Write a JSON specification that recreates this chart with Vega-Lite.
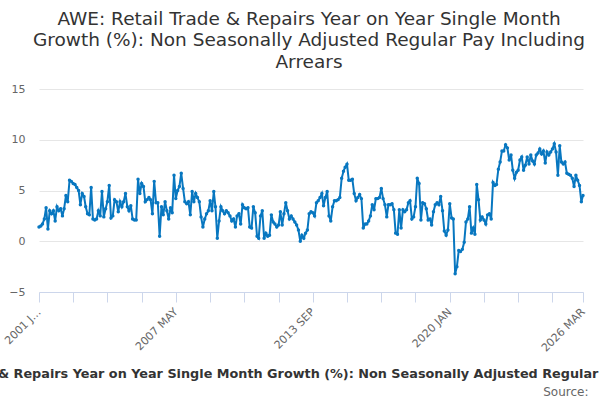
{
  "$schema": "https://vega.github.io/schema/vega-lite/v6.json",
  "width": 544,
  "height": 203,
  "autosize": {"type": "none"},
  "padding": {"left": 39, "top": 89, "right": 17, "bottom": 108},
  "background": "white",
  "config": {"font": "DejaVu Sans", "view": {"stroke": null}},
  "title": {
    "text": ["AWE: Retail Trade & Repairs Year on Year Single Month", "Growth (%): Non Seasonally Adjusted Regular Pay Including", "Arrears"],
    "fontSize": 18.5,
    "fontWeight": "normal",
    "color": "#333333",
    "anchor": "middle",
    "frame": "group",
    "dx": -2,
    "offset": 12,
    "lineHeight": 21.5
  },
  "data": {
    "values": [
      {"d": "2001-01", "v": 1.4}, {"d": "2001-02", "v": 1.5}, {"d": "2001-03", "v": 1.7}, {"d": "2001-04", "v": 2.2}, {"d": "2001-05", "v": 3.3}, {"d": "2001-06", "v": 1.2},
      {"d": "2001-07", "v": 3.0}, {"d": "2001-08", "v": 2.7}, {"d": "2001-09", "v": 3.0}, {"d": "2001-10", "v": 2.0}, {"d": "2001-11", "v": 3.4}, {"d": "2001-12", "v": 3.0},
      {"d": "2002-01", "v": 3.2}, {"d": "2002-02", "v": 2.5}, {"d": "2002-03", "v": 3.2}, {"d": "2002-04", "v": 4.5}, {"d": "2002-05", "v": 3.9}, {"d": "2002-06", "v": 6.0},
      {"d": "2002-07", "v": 5.9}, {"d": "2002-08", "v": 5.7}, {"d": "2002-09", "v": 5.6}, {"d": "2002-10", "v": 5.3}, {"d": "2002-11", "v": 5.0}, {"d": "2002-12", "v": 3.6},
      {"d": "2003-01", "v": 4.7}, {"d": "2003-02", "v": 4.4}, {"d": "2003-03", "v": 3.4}, {"d": "2003-04", "v": 2.7}, {"d": "2003-05", "v": 2.6}, {"d": "2003-06", "v": 5.3},
      {"d": "2003-07", "v": 2.2}, {"d": "2003-08", "v": 2.1}, {"d": "2003-09", "v": 2.2}, {"d": "2003-10", "v": 3.0}, {"d": "2003-11", "v": 2.5}, {"d": "2003-12", "v": 4.9},
      {"d": "2004-01", "v": 2.4}, {"d": "2004-02", "v": 3.2}, {"d": "2004-03", "v": 3.9}, {"d": "2004-04", "v": 5.5}, {"d": "2004-05", "v": 2.3}, {"d": "2004-06", "v": 2.5},
      {"d": "2004-07", "v": 4.1}, {"d": "2004-08", "v": 3.9}, {"d": "2004-09", "v": 2.9}, {"d": "2004-10", "v": 3.9}, {"d": "2004-11", "v": 3.4}, {"d": "2004-12", "v": 3.9},
      {"d": "2005-01", "v": 4.7}, {"d": "2005-02", "v": 3.4}, {"d": "2005-03", "v": 3.0}, {"d": "2005-04", "v": 3.5}, {"d": "2005-05", "v": 2.2}, {"d": "2005-06", "v": 2.1},
      {"d": "2005-07", "v": 2.1}, {"d": "2005-08", "v": 6.1}, {"d": "2005-09", "v": 4.7}, {"d": "2005-10", "v": 5.7}, {"d": "2005-11", "v": 5.4}, {"d": "2005-12", "v": 3.9},
      {"d": "2006-01", "v": 4.1}, {"d": "2006-02", "v": 4.3}, {"d": "2006-03", "v": 4.1}, {"d": "2006-04", "v": 2.7}, {"d": "2006-05", "v": 5.9}, {"d": "2006-06", "v": 3.8},
      {"d": "2006-07", "v": 3.8}, {"d": "2006-08", "v": 0.5}, {"d": "2006-09", "v": 3.4}, {"d": "2006-10", "v": 2.6}, {"d": "2006-11", "v": 3.9}, {"d": "2006-12", "v": 3.0},
      {"d": "2007-01", "v": 2.2}, {"d": "2007-02", "v": 3.3}, {"d": "2007-03", "v": 2.8}, {"d": "2007-04", "v": 6.5}, {"d": "2007-05", "v": 4.2}, {"d": "2007-06", "v": 5.0},
      {"d": "2007-07", "v": 5.4}, {"d": "2007-08", "v": 6.7}, {"d": "2007-09", "v": 5.2}, {"d": "2007-10", "v": 3.9}, {"d": "2007-11", "v": 3.7}, {"d": "2007-12", "v": 3.9},
      {"d": "2008-01", "v": 2.6}, {"d": "2008-02", "v": 4.9}, {"d": "2008-03", "v": 3.9}, {"d": "2008-04", "v": 4.7}, {"d": "2008-05", "v": 4.3}, {"d": "2008-06", "v": 3.9},
      {"d": "2008-07", "v": 2.4}, {"d": "2008-08", "v": 1.4}, {"d": "2008-09", "v": 2.2}, {"d": "2008-10", "v": 2.7}, {"d": "2008-11", "v": 3.0}, {"d": "2008-12", "v": 4.0},
      {"d": "2009-01", "v": 3.0}, {"d": "2009-02", "v": 4.9}, {"d": "2009-03", "v": 3.4}, {"d": "2009-04", "v": 0.3}, {"d": "2009-05", "v": 2.0}, {"d": "2009-06", "v": 3.4},
      {"d": "2009-07", "v": 3.0}, {"d": "2009-08", "v": 2.7}, {"d": "2009-09", "v": 3.0}, {"d": "2009-10", "v": 2.8}, {"d": "2009-11", "v": 2.5}, {"d": "2009-12", "v": 2.0},
      {"d": "2010-01", "v": 2.2}, {"d": "2010-02", "v": 1.4}, {"d": "2010-03", "v": 2.5}, {"d": "2010-04", "v": 2.7}, {"d": "2010-05", "v": 1.7}, {"d": "2010-06", "v": 3.6},
      {"d": "2010-07", "v": 3.3}, {"d": "2010-08", "v": 3.2}, {"d": "2010-09", "v": 3.3}, {"d": "2010-10", "v": 1.4}, {"d": "2010-11", "v": 1.3}, {"d": "2010-12", "v": 3.4},
      {"d": "2011-01", "v": 2.8}, {"d": "2011-02", "v": 0.5}, {"d": "2011-03", "v": 0.3}, {"d": "2011-04", "v": 2.5}, {"d": "2011-05", "v": 3.0}, {"d": "2011-06", "v": 0.3},
      {"d": "2011-07", "v": 0.8}, {"d": "2011-08", "v": 0.5}, {"d": "2011-09", "v": 0.6}, {"d": "2011-10", "v": 2.6}, {"d": "2011-11", "v": 1.9}, {"d": "2011-12", "v": 1.7},
      {"d": "2012-01", "v": 1.4}, {"d": "2012-02", "v": 1.6}, {"d": "2012-03", "v": 2.9}, {"d": "2012-04", "v": 1.6}, {"d": "2012-05", "v": 2.7}, {"d": "2012-06", "v": 3.8},
      {"d": "2012-07", "v": 3.0}, {"d": "2012-08", "v": 2.2}, {"d": "2012-09", "v": 2.5}, {"d": "2012-10", "v": 2.2}, {"d": "2012-11", "v": 1.9}, {"d": "2012-12", "v": 1.6},
      {"d": "2013-01", "v": 1.1}, {"d": "2013-02", "v": 0.0}, {"d": "2013-03", "v": 0.6}, {"d": "2013-04", "v": 0.3}, {"d": "2013-05", "v": 0.8}, {"d": "2013-06", "v": 1.1},
      {"d": "2013-07", "v": 2.7}, {"d": "2013-08", "v": 2.9}, {"d": "2013-09", "v": 2.8}, {"d": "2013-10", "v": 2.5}, {"d": "2013-11", "v": 3.8}, {"d": "2013-12", "v": 4.0},
      {"d": "2014-01", "v": 4.3}, {"d": "2014-02", "v": 4.7}, {"d": "2014-03", "v": 3.5}, {"d": "2014-04", "v": 4.3}, {"d": "2014-05", "v": 4.9}, {"d": "2014-06", "v": 2.5},
      {"d": "2014-07", "v": 2.0}, {"d": "2014-08", "v": 3.4}, {"d": "2014-09", "v": 4.0}, {"d": "2014-10", "v": 4.0}, {"d": "2014-11", "v": 4.1}, {"d": "2014-12", "v": 4.3},
      {"d": "2015-01", "v": 6.2}, {"d": "2015-02", "v": 6.9}, {"d": "2015-03", "v": 7.3}, {"d": "2015-04", "v": 7.6}, {"d": "2015-05", "v": 6.0}, {"d": "2015-06", "v": 6.0},
      {"d": "2015-07", "v": 6.1}, {"d": "2015-08", "v": 4.7}, {"d": "2015-09", "v": 4.0}, {"d": "2015-10", "v": 4.3}, {"d": "2015-11", "v": 4.6}, {"d": "2015-12", "v": 4.2},
      {"d": "2016-01", "v": 1.3}, {"d": "2016-02", "v": 1.7}, {"d": "2016-03", "v": 1.7}, {"d": "2016-04", "v": 2.0}, {"d": "2016-05", "v": 2.5}, {"d": "2016-06", "v": 3.6},
      {"d": "2016-07", "v": 3.1}, {"d": "2016-08", "v": 4.2}, {"d": "2016-09", "v": 4.2}, {"d": "2016-10", "v": 4.3}, {"d": "2016-11", "v": 5.2}, {"d": "2016-12", "v": 4.2},
      {"d": "2017-01", "v": 3.6}, {"d": "2017-02", "v": 2.4}, {"d": "2017-03", "v": 3.6}, {"d": "2017-04", "v": 3.6}, {"d": "2017-05", "v": 3.7}, {"d": "2017-06", "v": 3.1},
      {"d": "2017-07", "v": 0.8}, {"d": "2017-08", "v": 0.7}, {"d": "2017-09", "v": 3.1}, {"d": "2017-10", "v": 1.3}, {"d": "2017-11", "v": 3.1}, {"d": "2017-12", "v": 2.9},
      {"d": "2018-01", "v": 3.1}, {"d": "2018-02", "v": 3.8}, {"d": "2018-03", "v": 4.0}, {"d": "2018-04", "v": 2.2}, {"d": "2018-05", "v": 2.4}, {"d": "2018-06", "v": 3.4},
      {"d": "2018-07", "v": 6.2}, {"d": "2018-08", "v": 5.7}, {"d": "2018-09", "v": 2.1}, {"d": "2018-10", "v": 3.8}, {"d": "2018-11", "v": 3.7}, {"d": "2018-12", "v": 3.2},
      {"d": "2019-01", "v": 2.1}, {"d": "2019-02", "v": 2.2}, {"d": "2019-03", "v": 1.6}, {"d": "2019-04", "v": 2.9}, {"d": "2019-05", "v": 3.6}, {"d": "2019-06", "v": 3.8},
      {"d": "2019-07", "v": 3.6}, {"d": "2019-08", "v": 4.4}, {"d": "2019-09", "v": 3.0}, {"d": "2019-10", "v": 1.0}, {"d": "2019-11", "v": 0.6}, {"d": "2019-12", "v": 1.1},
      {"d": "2020-01", "v": 3.7}, {"d": "2020-02", "v": 2.3}, {"d": "2020-03", "v": 2.2}, {"d": "2020-04", "v": -3.2}, {"d": "2020-05", "v": -2.5}, {"d": "2020-06", "v": -0.9},
      {"d": "2020-07", "v": -1.0}, {"d": "2020-08", "v": -0.8}, {"d": "2020-09", "v": -0.1}, {"d": "2020-10", "v": 1.9}, {"d": "2020-11", "v": 2.2}, {"d": "2020-12", "v": 3.4},
      {"d": "2021-01", "v": 0.8}, {"d": "2021-02", "v": 1.3}, {"d": "2021-03", "v": 0.7}, {"d": "2021-04", "v": 5.6}, {"d": "2021-05", "v": 4.1}, {"d": "2021-06", "v": 2.1},
      {"d": "2021-07", "v": 2.4}, {"d": "2021-08", "v": 2.1}, {"d": "2021-09", "v": 1.7}, {"d": "2021-10", "v": 2.6}, {"d": "2021-11", "v": 2.7}, {"d": "2021-12", "v": 2.2},
      {"d": "2022-01", "v": 5.8}, {"d": "2022-02", "v": 5.5}, {"d": "2022-03", "v": 5.6}, {"d": "2022-04", "v": 7.1}, {"d": "2022-05", "v": 7.8}, {"d": "2022-06", "v": 8.9},
      {"d": "2022-07", "v": 8.9}, {"d": "2022-08", "v": 9.5}, {"d": "2022-09", "v": 9.2}, {"d": "2022-10", "v": 8.0}, {"d": "2022-11", "v": 8.5}, {"d": "2022-12", "v": 7.0},
      {"d": "2023-01", "v": 6.2}, {"d": "2023-02", "v": 6.8}, {"d": "2023-03", "v": 7.0}, {"d": "2023-04", "v": 8.0}, {"d": "2023-05", "v": 8.3}, {"d": "2023-06", "v": 7.0},
      {"d": "2023-07", "v": 7.5}, {"d": "2023-08", "v": 8.3}, {"d": "2023-09", "v": 7.6}, {"d": "2023-10", "v": 8.5}, {"d": "2023-11", "v": 7.9}, {"d": "2023-12", "v": 7.6},
      {"d": "2024-01", "v": 8.5}, {"d": "2024-02", "v": 8.7}, {"d": "2024-03", "v": 9.1}, {"d": "2024-04", "v": 8.6}, {"d": "2024-05", "v": 8.9}, {"d": "2024-06", "v": 7.7},
      {"d": "2024-07", "v": 8.8}, {"d": "2024-08", "v": 8.5}, {"d": "2024-09", "v": 8.8}, {"d": "2024-10", "v": 9.1}, {"d": "2024-11", "v": 9.6}, {"d": "2024-12", "v": 8.8},
      {"d": "2025-01", "v": 6.5}, {"d": "2025-02", "v": 9.4}, {"d": "2025-03", "v": 7.8}, {"d": "2025-04", "v": 7.6}, {"d": "2025-05", "v": 7.8}, {"d": "2025-06", "v": 6.7},
      {"d": "2025-07", "v": 6.6}, {"d": "2025-08", "v": 6.5}, {"d": "2025-09", "v": 6.2}, {"d": "2025-10", "v": 5.4}, {"d": "2025-11", "v": 6.5}, {"d": "2025-12", "v": 6.0},
      {"d": "2026-01", "v": 5.5}, {"d": "2026-02", "v": 3.9}, {"d": "2026-03", "v": 4.5}
    ]
  },
  "mark": {
    "type": "line",
    "color": "#0877c0",
    "strokeWidth": 2,
    "point": {"filled": true, "size": 12, "color": "#0877c0"}
  },
  "encoding": {
    "x": {
      "field": "d",
      "type": "temporal",
      "scale": {
        "type": "utc",
        "domain": [{"year": 2001, "month": 1, "date": 1, "utc": true}, {"year": 2026, "month": 3, "date": 1, "utc": true}]
      },
      "axis": {
        "values": [
          {"year": 2001, "month": 1, "date": 1, "utc": true},
          {"year": 2002, "month": 8, "date": 1, "utc": true},
          {"year": 2004, "month": 3, "date": 1, "utc": true},
          {"year": 2005, "month": 10, "date": 1, "utc": true},
          {"year": 2007, "month": 5, "date": 1, "utc": true},
          {"year": 2008, "month": 12, "date": 1, "utc": true},
          {"year": 2010, "month": 7, "date": 1, "utc": true},
          {"year": 2012, "month": 2, "date": 1, "utc": true},
          {"year": 2013, "month": 9, "date": 1, "utc": true},
          {"year": 2015, "month": 4, "date": 1, "utc": true},
          {"year": 2016, "month": 11, "date": 1, "utc": true},
          {"year": 2018, "month": 6, "date": 1, "utc": true},
          {"year": 2020, "month": 1, "date": 1, "utc": true},
          {"year": 2021, "month": 8, "date": 1, "utc": true},
          {"year": 2023, "month": 3, "date": 1, "utc": true},
          {"year": 2024, "month": 10, "date": 1, "utc": true},
          {"year": 2026, "month": 3, "date": 1, "utc": true}
        ],
        "labelExpr": "upper(utcFormat(datum.value, '%Y %b')) == '2001 JAN' ? '2001 J…' : (indexof(['2007 MAY', '2013 SEP', '2020 JAN', '2026 MAR'], upper(utcFormat(datum.value, '%Y %b'))) >= 0 ? upper(utcFormat(datum.value, '%Y %b')) : '')",
        "labelAngle": -45,
        "labelAlign": "right",
        "labelBaseline": "middle",
        "labelFontSize": 11,
        "labelColor": "#666666",
        "labelPadding": 8,
        "labelOverlap": false,
        "labelFlush": false,
        "labelBound": false,
        "domainColor": "#ccd6eb",
        "tickColor": "#ccd6eb",
        "tickSize": 10,
        "grid": false,
        "title": "AWE: Retail Trade & Repairs Year on Year Single Month Growth (%): Non Seasonally Adjusted Regular Pay Including Arrears",
        "titleFontSize": 12.8,
        "titleFontWeight": "bold",
        "titleColor": "#333333",
        "titleLimit": 3000,
        "titleY": 81,
        "titleBaseline": "middle"
      }
    },
    "y": {
      "field": "v",
      "type": "quantitative",
      "scale": {"domain": [-5, 15], "nice": false, "zero": false},
      "axis": {
        "values": [-5, 0, 5, 10, 15],
        "domain": false,
        "ticks": false,
        "gridColor": "#e6e6e6",
        "labelColor": "#666666",
        "labelFontSize": 11,
        "labelPadding": 14,
        "title": "Source:",
        "titleAngle": 0,
        "titleX": 549,
        "titleY": 302,
        "titleAlign": "right",
        "titleBaseline": "middle",
        "titleFontSize": 12,
        "titleFontWeight": "normal",
        "titleColor": "#666666"
      }
    }
  }
}
